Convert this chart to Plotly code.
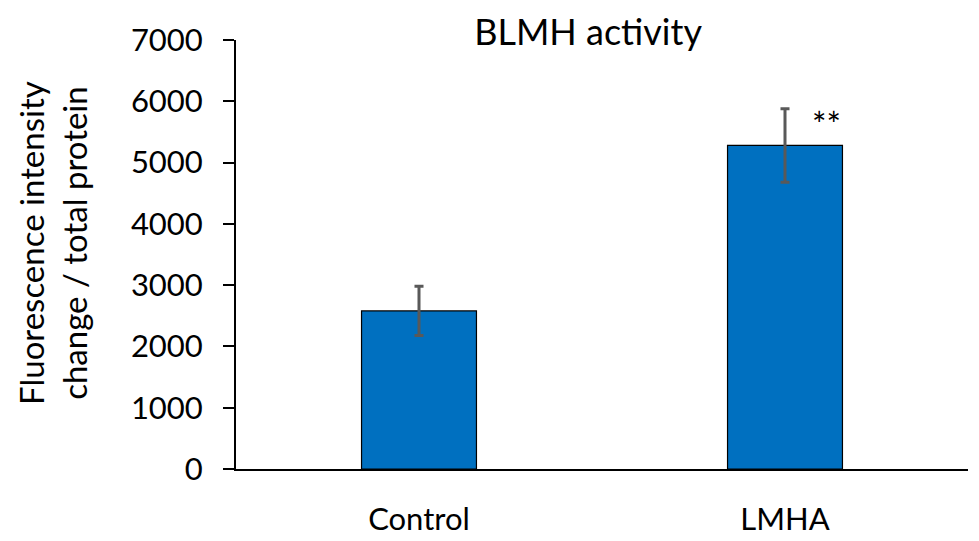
import plotly.graph_objects as go

categories = ["Control", "LMHA"]
values = [2580, 5280]
errors = [400, 600]
significance = ["", "**"]
y_ticks = [0, 1000, 2000, 3000, 4000, 5000, 6000, 7000]
y_title = "Fluorescence intensity<br>change / total protein"

FONT = "Lato"

fig = go.Figure()
fig.add_trace(go.Bar(
    x=categories, y=values, width=0.314,
    marker=dict(color="#0070C0", line=dict(color="black", width=1.2)),
    error_y=dict(type="data", array=errors, visible=True, color="#595959", thickness=3, width=4.5),
    showlegend=False,
))

for c, v, e, s in zip(categories, values, errors, significance):
    if s:
        fig.add_annotation(x=c, y=v + e, text=s, showarrow=False, xshift=41, yshift=-15,
                           font=dict(family=FONT, size=34, color="black"))

fig.add_annotation(xref="paper", yref="paper", x=-0.250, y=0.527, text=y_title,
                   textangle=-90, showarrow=False, xanchor="center", yanchor="middle",
                   borderpad=0, borderwidth=0,
                   font=dict(family=FONT, size=33, color="black"))

fig.update_layout(
    width=979, height=541,
    margin=dict(l=228, r=19, t=26, b=77),
    paper_bgcolor="white", plot_bgcolor="white",
    font=dict(family=FONT, size=31, color="black"),
    title=dict(text="BLMH activity", x=0.5925, xanchor="center", xref="container",
               y=0.955, yanchor="middle", yref="container",
               font=dict(family=FONT, size=36, color="black")),
    xaxis=dict(showline=True, linecolor="black", linewidth=2, ticks="", showgrid=False,
               tickfont=dict(size=31), ticklabelstandoff=22),
    yaxis=dict(range=[0, 7000], tickvals=y_ticks, showline=True, linecolor="black", linewidth=2,
               ticks="outside", ticklen=11, tickwidth=2, tickcolor="black", showgrid=False,
               zeroline=False, tickfont=dict(size=31), ticklabelstandoff=14),
)

fig.write_html("out.html")
